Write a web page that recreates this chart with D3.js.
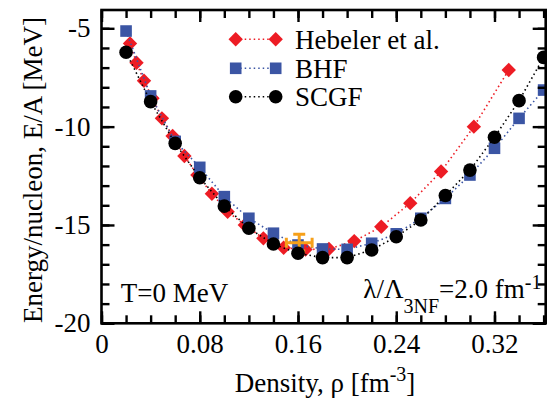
<!DOCTYPE html>
<html>
<head>
<meta charset="utf-8">
<script src="https://cdn.jsdelivr.net/npm/d3@7"></script>
<style>
  body { margin: 0; background: #fff; }
  svg text { font-family: "Liberation Serif", "Times New Roman", serif; fill: #000; }
</style>
</head>
<body>
<svg></svg>
<script>
// Hebeler et al. (red diamonds)
let hebRho = [0.0232, 0.0285, 0.0346, 0.0415, 0.0492, 0.0579, 0.0675, 0.0781, 0.0899, 0.1027, 0.1167,
              0.1318, 0.1483, 0.1661, 0.1852, 0.2058, 0.2278, 0.2514, 0.2765, 0.3032, 0.3316]
let hebE = [-5.77, -6.75, -7.67, -8.56, -9.58, -10.48, -11.49, -12.46, -13.41, -14.33, -15.0,
            -15.68, -16.16, -16.25, -16.22, -15.82, -15.09, -13.89, -12.28, -10.0, -7.12]

// BHF (blue squares) and SCGF (black circles) share the density grid
let gridRho = [0.02, 0.04, 0.06, 0.08, 0.10, 0.12, 0.14, 0.16, 0.18, 0.20, 0.22, 0.24, 0.26, 0.28, 0.30, 0.32, 0.34, 0.36]
let bhfE = [-5.14, -8.44, -10.75, -12.07, -13.56, -14.66, -15.42, -16.02, -16.22, -16.24, -15.93, -15.45,
            -14.66, -13.65, -12.46, -11.10, -9.58, -8.14]
let scgfE = [-6.22, -8.73, -10.85, -12.60, -14.04, -15.17, -15.97, -16.44, -16.66, -16.66, -16.27, -15.60,
             -14.75, -13.50, -12.21, -10.54, -8.68, -6.48]

// empirical saturation point
let satRho = 0.161, satRhoErr = 0.0105
let satE = -15.9, satEErr = 0.43

let seriesNames = ["Hebeler et al.", "BHF", "SCGF"]
let xTicks = [0, 0.08, 0.16, 0.24, 0.32]
let xTickLabels = ["0", "0.08", "0.16", "0.24", "0.32"]
let yTicks = [-20, -15, -10, -5]
let yTickLabels = ["-20", "-15", "-10", "-5"]

let width = 549
let height = 400
let padLeft = 101.5, padRight = 545.7, padTop = 10, padBottom = 323.3
let red = "#ed1c24", blue = "#3b55a4", orange = "#f6a01a"
let fontSize = 27
let smallSize = 20

let svg = d3.select("svg").attr("width", width).attr("height", height)

let xScale = d3.scaleLinear().domain([0, 0.3617]).range([padLeft, padRight])
let yScale = d3.scaleLinear().domain([-20, -4.07]).range([padBottom, padTop])

svg.append("clipPath").attr("id", "plot")
    .append("rect").attr("x", padLeft).attr("y", padTop)
    .attr("width", padRight - padLeft).attr("height", padBottom - padTop)

let plot = svg.append("g").attr("clip-path", "url(#plot)")

let diamond = s => "M0," + (-s) + "L" + s + ",0L0," + s + "L" + (-s) + ",0Z"

let line = d3.line().x(d => xScale(d[0])).y(d => yScale(d[1]))

let drawSeries = (g, pts, color, shape) => {
    g.append("path")
        .datum(pts)
        .attr("d", line)
        .attr("fill", "none")
        .attr("stroke", color)
        .attr("stroke-width", 1.6)
        .attr("stroke-dasharray", "1.5,3")
    let sel = g.selectAll(null).data(pts).enter()
    if (shape == "diamond") {
        sel.append("path")
            .attr("d", diamond(7.2))
            .attr("transform", d => "translate(" + xScale(d[0]) + "," + yScale(d[1]) + ")")
            .attr("fill", color)
    } else if (shape == "square") {
        sel.append("rect")
            .attr("x", d => xScale(d[0]) - 5.8)
            .attr("y", d => yScale(d[1]) - 5.8)
            .attr("width", 11.6).attr("height", 11.6)
            .attr("fill", color)
    } else {
        sel.append("circle")
            .attr("cx", d => xScale(d[0]))
            .attr("cy", d => yScale(d[1]))
            .attr("r", 6.8)
            .attr("fill", color)
    }
}

let hebPts = hebRho.map((r, i) => [r, hebE[i]])
let bhfPts = gridRho.map((r, i) => [r, bhfE[i]])
let scgfPts = gridRho.map((r, i) => [r, scgfE[i]])

drawSeries(plot, hebPts, red, "diamond")
drawSeries(plot, bhfPts, blue, "square")

// saturation error bar
let eb = plot.append("g").attr("stroke", orange).attr("stroke-width", 3).attr("fill", "none")
let cx = xScale(satRho), cy = yScale(satE)
let x0 = xScale(satRho - satRhoErr), x1 = xScale(satRho + satRhoErr)
let y0 = yScale(satE - satEErr), y1 = yScale(satE + satEErr)
eb.append("line").attr("x1", x0).attr("x2", x1).attr("y1", cy).attr("y2", cy)
eb.append("line").attr("x1", cx).attr("x2", cx).attr("y1", y0).attr("y2", y1)
eb.append("line").attr("x1", x0).attr("x2", x0).attr("y1", cy - 5).attr("y2", cy + 5)
eb.append("line").attr("x1", x1).attr("x2", x1).attr("y1", cy - 5).attr("y2", cy + 5)
eb.append("line").attr("x1", cx - 6).attr("x2", cx + 6).attr("y1", y0).attr("y2", y0)
eb.append("line").attr("x1", cx - 6).attr("x2", cx + 6).attr("y1", y1).attr("y2", y1)

drawSeries(plot, scgfPts, "#000", "circle")

// axes: ticks point inward on all four sides
let minorX = d3.range(0, 0.37, 0.02).filter(v => v <= 0.3617)
let minorY = d3.range(-20, -4, 1)

let styleAxis = g => {
    g.select(".domain").remove()
    g.selectAll(".tick line").attr("stroke", "#000").attr("stroke-width", 2.4)
    g.selectAll(".tick text").attr("font-size", fontSize)
        .attr("font-family", "Liberation Serif, Times New Roman, serif")
}

svg.append("g").attr("transform", "translate(0," + padBottom + ")")
    .call(d3.axisBottom(xScale).tickValues(minorX).tickSize(-8).tickFormat(""))
    .call(styleAxis)
svg.append("g").attr("transform", "translate(0," + padBottom + ")")
    .call(d3.axisBottom(xScale).tickValues(xTicks).tickSize(-12).tickPadding(10.5)
        .tickFormat((d, i) => xTickLabels[i]))
    .call(styleAxis)
svg.append("g").attr("transform", "translate(0," + padTop + ")")
    .call(d3.axisTop(xScale).tickValues(minorX).tickSize(-8).tickFormat(""))
    .call(styleAxis)
svg.append("g").attr("transform", "translate(0," + padTop + ")")
    .call(d3.axisTop(xScale).tickValues(xTicks).tickSize(-12).tickFormat(""))
    .call(styleAxis)

svg.append("g").attr("transform", "translate(" + padLeft + ",0)")
    .call(d3.axisLeft(yScale).tickValues(minorY).tickSize(-8).tickFormat(""))
    .call(styleAxis)
svg.append("g").attr("transform", "translate(" + padLeft + ",0)")
    .call(d3.axisLeft(yScale).tickValues(yTicks).tickSize(-13).tickPadding(11)
        .tickFormat((d, i) => yTickLabels[i]))
    .call(styleAxis)
svg.append("g").attr("transform", "translate(" + padRight + ",0)")
    .call(d3.axisRight(yScale).tickValues(minorY).tickSize(-8).tickFormat(""))
    .call(styleAxis)
svg.append("g").attr("transform", "translate(" + padRight + ",0)")
    .call(d3.axisRight(yScale).tickValues(yTicks).tickSize(-13).tickFormat(""))
    .call(styleAxis)

svg.append("rect")
    .attr("x", padLeft).attr("y", padTop)
    .attr("width", padRight - padLeft).attr("height", padBottom - padTop)
    .attr("fill", "none").attr("stroke", "#000").attr("stroke-width", 2.6)

// axis titles
svg.append("text")
    .attr("transform", "translate(42,170) rotate(-90)")
    .attr("text-anchor", "middle")
    .attr("font-size", fontSize)
    .text("Energy/nucleon, E/A [MeV]")

let xt = svg.append("text")
    .attr("x", 325).attr("y", 391.7)
    .attr("text-anchor", "middle")
    .attr("font-size", fontSize)
xt.append("tspan").text("Density, ρ [fm")
xt.append("tspan").attr("font-size", smallSize).attr("dy", -11).text("-3")
xt.append("tspan").attr("dy", 11).text("]")

// annotations
svg.append("text")
    .attr("x", 120.7).attr("y", 301.7)
    .attr("font-size", fontSize)
    .text("T=0 MeV")

let lam = svg.append("text")
    .attr("x", 541.5).attr("y", 298)
    .attr("text-anchor", "end")
    .attr("font-size", fontSize)
lam.append("tspan").text("λ/Λ")
lam.append("tspan").attr("font-size", smallSize).attr("dy", 15).text("3NF")
lam.append("tspan").attr("dy", -15).text("=2.0 fm")
lam.append("tspan").attr("font-size", smallSize).attr("dy", -9).text("-1")

// legend
let legendY = [39.3, 68.3, 96.7]
let legendColors = [red, blue, "#000"]
let legendShapes = ["diamond", "square", "circle"]
let legendScale = d3.scaleLinear().domain([0, 1]).range([235.7, 275.7])

seriesNames.forEach((name, i) => {
    let g = svg.append("g")
    let y = legendY[i]
    g.append("line")
        .attr("x1", legendScale(0)).attr("x2", legendScale(1))
        .attr("y1", y).attr("y2", y)
        .attr("stroke", legendColors[i])
        .attr("stroke-width", 1.6)
        .attr("stroke-dasharray", "1.5,3")
    ;[0, 1].forEach(t => {
        let x = legendScale(t)
        if (legendShapes[i] == "diamond") {
            g.append("path").attr("d", diamond(7.2))
                .attr("transform", "translate(" + x + "," + y + ")")
                .attr("fill", legendColors[i])
        } else if (legendShapes[i] == "square") {
            g.append("rect").attr("x", x - 5.8).attr("y", y - 5.8)
                .attr("width", 11.6).attr("height", 11.6)
                .attr("fill", legendColors[i])
        } else {
            g.append("circle").attr("cx", x).attr("cy", y).attr("r", 6.8)
                .attr("fill", legendColors[i])
        }
    })
    g.append("text")
        .attr("x", 295).attr("y", y + 9.2)
        .attr("font-size", fontSize)
        .text(name)
})
</script>
</body>
</html>
